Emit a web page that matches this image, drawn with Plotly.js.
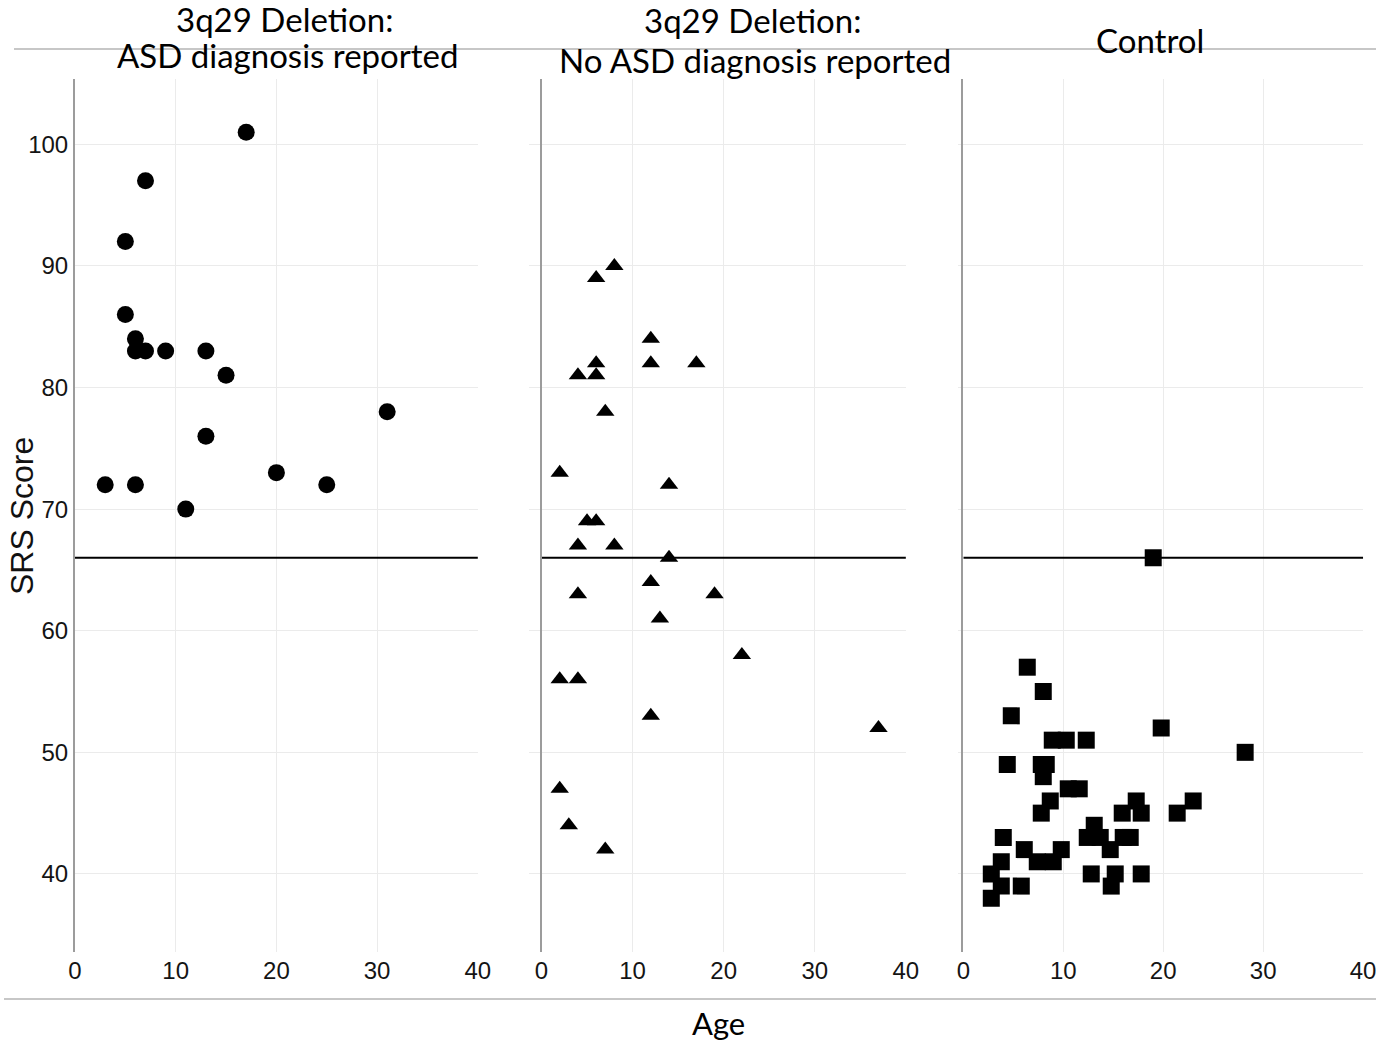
<!DOCTYPE html>
<html>
<head>
<meta charset="utf-8">
<script src="https://cdn.plot.ly/plotly-3.0.1.min.js"></script>
<style>
  html, body { margin: 0; padding: 0; background: #ffffff; }
  #chart { width: 1376px; height: 1042px; }
</style>
</head>
<body>
<div id="chart"></div>
<script>
// Panel titles, one entry per line
const panelTitles = [
  ['3q29 Deletion:', 'ASD diagnosis reported'],
  ['3q29 Deletion:', 'No ASD diagnosis reported'],
  ['Control']
];

// 3q29 deletion, ASD diagnosis reported
const asdAge = [17, 7, 5, 5, 6, 6, 7, 9, 13, 15, 31, 13, 3, 6, 20, 25, 11];
const asdSRS = [101, 97, 92, 86, 84, 83, 83, 83, 83, 81, 78, 76, 72, 72, 73, 72, 70];

// 3q29 deletion, no ASD diagnosis reported
const noAsdAge = [8, 6, 12, 6, 12, 17, 4, 6, 7, 2, 14, 5, 6, 4, 8, 14, 12, 4, 19, 13, 22, 2, 4, 12, 37, 2, 3, 7];
const noAsdSRS = [90, 89, 84, 82, 82, 82, 81, 81, 78, 73, 72, 69, 69, 67, 67, 66, 64, 63, 63, 61, 58, 56, 56, 53, 52, 47, 44, 42];

// Controls
const controlAge = [6.4, 8.0, 4.8, 19.8, 28.2, 8.9, 10.3, 12.3, 4.4, 7.8, 8.3, 8.0, 10.5, 11.6, 8.7,
                    17.3, 23.0, 7.8, 15.9, 17.8, 21.4, 13.1, 4.0, 12.4, 13.7, 16.0, 16.7, 6.1, 9.8,
                    14.7, 3.8, 7.4, 9.0, 2.8, 12.8, 15.2, 17.8, 3.8, 5.8, 14.8, 2.8, 19.0];
const controlSRS = [57, 55, 53, 52, 50, 51, 51, 51, 49, 49, 49, 48, 47, 47, 46,
                    46, 46, 45, 45, 45, 45, 44, 43, 43, 43, 43, 43, 42, 42,
                    42, 41, 41, 41, 40, 40, 40, 40, 39, 39, 39, 38, 66];

// SRS clinical threshold
const srsThreshold = 66;

// Axis ticks
const ageTicks = [0, 10, 20, 30, 40];
const srsTicks = [40, 50, 60, 70, 80, 90, 100];

const W = 1376, H = 1042;
const px = v => v / W;
const py = v => 1 - v / H;

const tickFont = { family: 'Liberation Sans, Arial, sans-serif', size: 24, color: '#141414' };
const titleFont = { family: 'Lato, Open Sans, sans-serif', size: 33, color: '#000000' };

function mk(x, y, symbol, size, xa, ya) {
  return {
    type: 'scatter', mode: 'markers', x: x, y: y, xaxis: xa, yaxis: ya,
    marker: { symbol: symbol, size: size, color: '#000000', line: { width: 0 } },
    hoverinfo: 'skip', showlegend: false
  };
}

const traces = [
  mk(asdAge, asdSRS, 'circle', 17, 'x', 'y'),
  mk(noAsdAge, noAsdSRS, 'triangle-up', 16, 'x2', 'y2'),
  mk(controlAge, controlSRS, 'square', 17, 'x3', 'y3')
];

const yRange = [33.58, 105.37];
const yDomain = [py(952), py(79)];

function xAxis(d0, d1) {
  return {
    domain: [px(d0), px(d1)], range: [0, 40.02],
    tickvals: ageTicks, ticktext: ageTicks.map(String),
    showgrid: true, gridcolor: '#ebebeb', gridwidth: 1,
    zeroline: false, showline: false, ticks: '',
    tickfont: tickFont, ticklabelstandoff: 2, ticklabeloverflow: 'allow',
    fixedrange: true
  };
}
function yAxis(anchor, labels, tickLen) {
  return {
    domain: yDomain, range: yRange, anchor: anchor,
    tickvals: srsTicks, ticktext: srsTicks.map(String),
    showticklabels: labels,
    showgrid: true, gridcolor: '#ebebeb', gridwidth: 1,
    zeroline: false, showline: true, linecolor: '#9c9c9c', linewidth: 2,
    ticks: tickLen > 0 ? 'outside' : '', ticklen: tickLen, tickcolor: '#ebebeb', tickwidth: 1,
    tickfont: tickFont, fixedrange: true
  };
}

const panels = [['x', 'y'], ['x2', 'y2'], ['x3', 'y3']];
const shapes = panels.map(p => ({
  type: 'line', xref: p[0], yref: p[1], x0: 0, x1: 40, y0: srsThreshold, y1: srsThreshold,
  line: { color: '#000000', width: 2 }, layer: 'between'
}));
// separator rules above and below the panels
shapes.push({ type: 'line', xref: 'paper', yref: 'paper', x0: px(14), x1: 1, y0: py(49), y1: py(49),
  line: { color: '#b4b4b4', width: 1.5 }, layer: 'below' });
shapes.push({ type: 'line', xref: 'paper', yref: 'paper', x0: px(4), x1: 1, y0: py(999), y1: py(999),
  line: { color: '#b4b4b4', width: 1.5 }, layer: 'below' });

// title lines: [text, centre x, centre y]
const titleLines = [
  [panelTitles[0][0], 284, 19],
  [panelTitles[0][1], 287, 55.5],
  [panelTitles[1][0], 752, 19.5],
  [panelTitles[1][1], 755.5, 60],
  [panelTitles[2][0], 1150, 40]
];

const annotations = titleLines.map(t => ({
  text: t[0], x: px(t[1]), y: py(t[2]), xref: 'paper', yref: 'paper',
  xanchor: 'center', yanchor: 'middle', showarrow: false, font: titleFont, borderpad: 0
}));
annotations.push({ text: 'Age', x: px(718), y: py(1023), xref: 'paper', yref: 'paper',
  xanchor: 'center', yanchor: 'middle', showarrow: false, borderpad: 0,
  font: { family: titleFont.family, size: 31, color: '#000000' } });
annotations.push({ text: 'SRS Score', x: px(22), y: py(516), xref: 'paper', yref: 'paper', textangle: -90,
  xanchor: 'center', yanchor: 'middle', showarrow: false,
  font: { family: 'Liberation Sans, Arial, sans-serif', size: 32, color: '#111111' } });

const layout = {
  width: W, height: H,
  margin: { l: 0, r: 0, t: 0, b: 0 },
  paper_bgcolor: '#ffffff', plot_bgcolor: 'rgba(0,0,0,0)',
  showlegend: false,
  xaxis: xAxis(75, 478),
  xaxis2: xAxis(541.5, 906),
  xaxis3: xAxis(963.3, 1363.3),
  yaxis: yAxis('x', true, 0),
  yaxis2: yAxis('x2', false, 11),
  yaxis3: yAxis('x3', false, 3),
  shapes: shapes,
  annotations: annotations
};

Plotly.newPlot('chart', traces, layout, { displayModeBar: false, staticPlot: true });
</script>
</body>
</html>
